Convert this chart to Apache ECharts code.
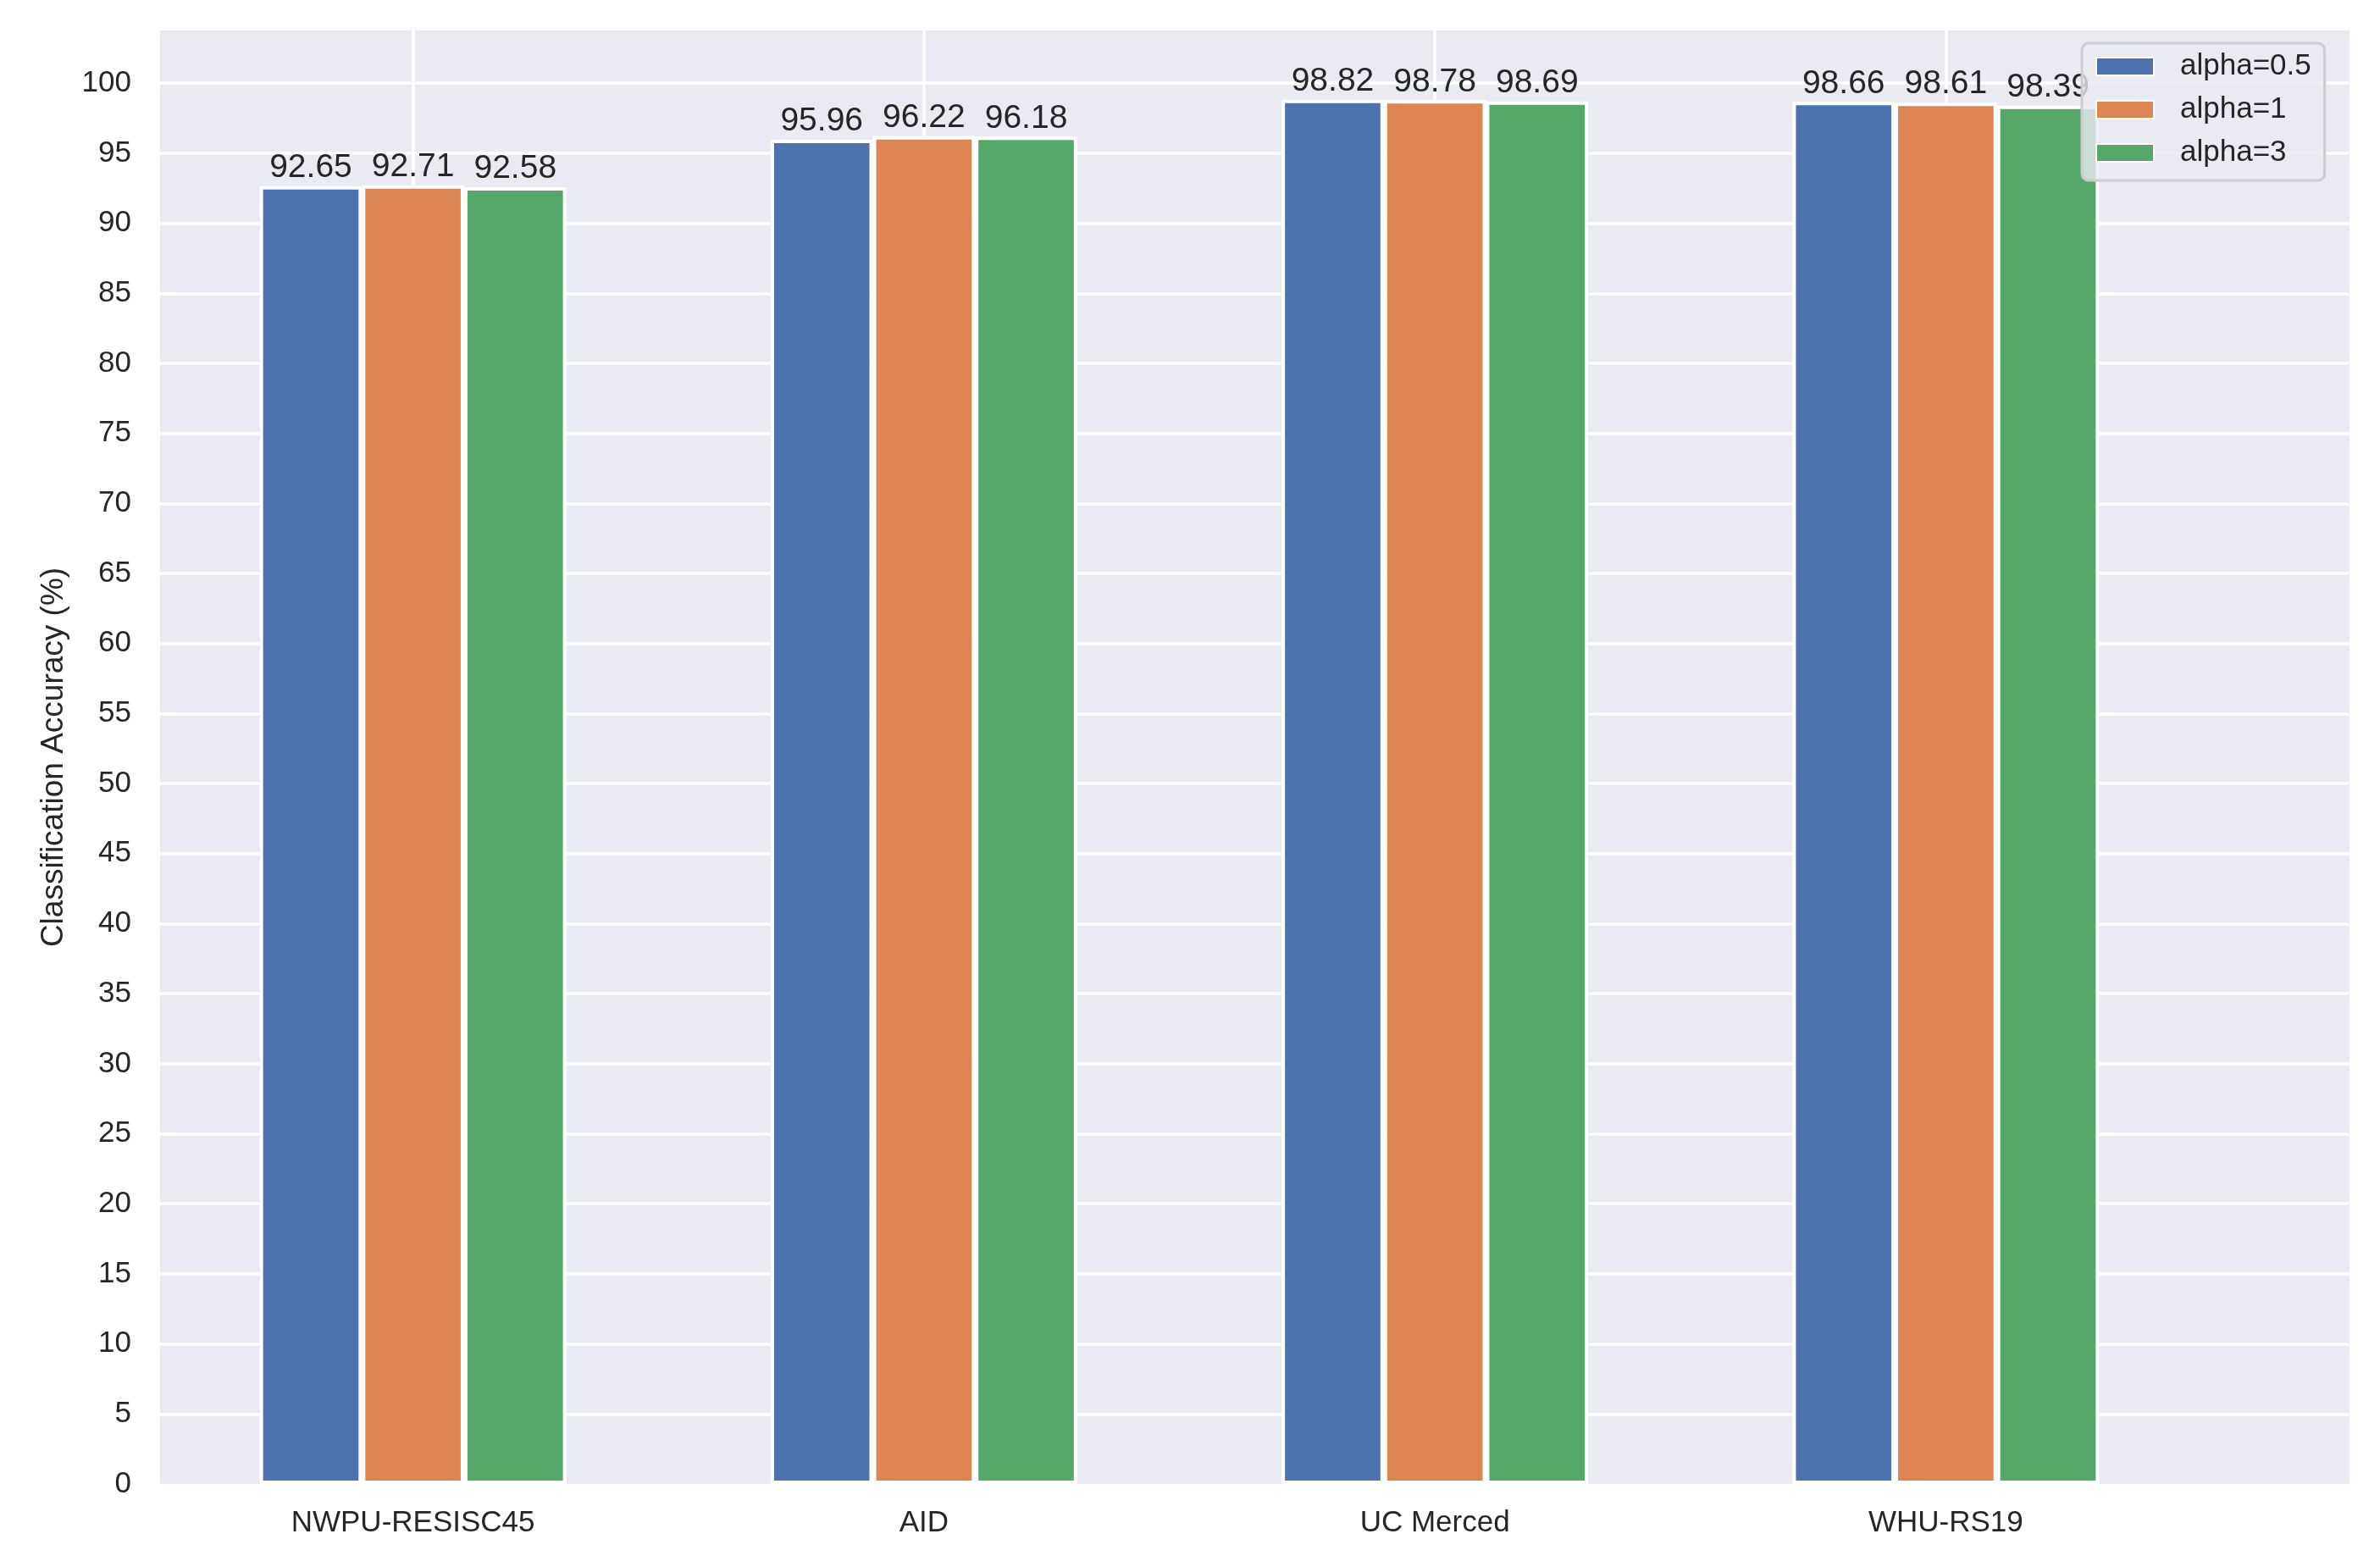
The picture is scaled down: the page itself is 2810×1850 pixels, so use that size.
<!DOCTYPE html>
<html>
<head>
<meta charset="utf-8">
<script src="https://cdn.jsdelivr.net/npm/echarts@6/dist/echarts.min.js"></script>
<style>
  html, body { margin: 0; padding: 0; background: #ffffff; }
  #chart { width: 2810px; height: 1850px; }
</style>
</head>
<body>
<div id="chart"></div>
<script>
const categories = ['NWPU-RESISC45', 'AID', 'UC Merced', 'WHU-RS19'];
const seriesNames = ['alpha=0.5', 'alpha=1', 'alpha=3'];
const alpha05 = [92.65, 95.96, 98.82, 98.66];
const alpha1 = [92.71, 96.22, 98.78, 98.61];
const alpha3 = [92.58, 96.18, 98.69, 98.39];
const yMin = 0;
const yMax = 103.76;
const yStep = 5;

const colors = ['#4C72B0', '#DD8452', '#55A868'];
const FONT = 'Liberation Sans, Arial, Helvetica, sans-serif';
const TXT = '#262626';

const chart = echarts.init(document.getElementById('chart'), null, { renderer: 'canvas' });

function barSeries(name, data, color) {
  return {
    name: name,
    type: 'bar',
    xAxisIndex: 1,
    yAxisIndex: 1,
    data: data,
    barWidth: '20%',
    barGap: '0%',
    itemStyle: { color: color, borderColor: '#ffffff', borderWidth: 4 },
    label: {
      show: true,
      position: 'top',
      distance: 2,
      color: TXT,
      fontFamily: FONT,
      fontSize: 39,
      formatter: p => Number(p.value).toFixed(2)
    }
  };
}

const option = {
  backgroundColor: '#ffffff',
  animation: false,
  textStyle: { fontFamily: FONT },
  grid: [
    { left: 189, top: 36, right: 36, bottom: 98, show: true, backgroundColor: '#EAEAF2', borderWidth: 0, z: 0 },
    { left: 186, top: 36, width: 2413, bottom: 98, show: false }
  ],
  xAxis: [
    { gridIndex: 0, type: 'value', min: 0, max: 1, show: false, splitLine: { show: false } },
    {
      gridIndex: 1, type: 'category', data: categories, boundaryGap: true,
      axisLine: { show: false }, axisTick: { show: false },
      axisLabel: { color: TXT, fontFamily: FONT, fontSize: 35, margin: 29 },
      splitLine: { show: true, alignWithLabel: true, lineStyle: { color: '#ffffff', width: 3.5 } }
    }
  ],
  yAxis: [
    {
      gridIndex: 0, type: 'value', min: yMin, max: yMax, interval: yStep,
      name: 'Classification Accuracy (%)', nameLocation: 'middle', nameRotate: 90, nameGap: 107,
      nameTextStyle: { color: TXT, fontFamily: FONT, fontSize: 37 },
      axisLine: { show: false }, axisTick: { show: false },
      axisLabel: { color: TXT, fontFamily: FONT, fontSize: 35, margin: 34, showMaxLabel: false,
        formatter: v => (Math.abs(v % yStep) < 1e-6 ? String(v) : '') },
      splitLine: { show: true, showMinLine: false, showMaxLine: false, lineStyle: { color: '#ffffff', width: 3.5 } }
    },
    { gridIndex: 1, type: 'value', min: yMin, max: yMax, interval: yStep, show: false, splitLine: { show: false } }
  ],
  legend: {
    data: seriesNames,
    orient: 'vertical',
    left: 2458,
    top: 51,
    padding: [10, 16, 15, 16],
    itemWidth: 68,
    itemHeight: 21,
    itemGap: 16,
    icon: 'rect',
    backgroundColor: 'rgba(234,234,242,0.8)',
    borderColor: '#cccccc',
    borderWidth: 3,
    borderRadius: 8,
    textStyle: { color: TXT, fontFamily: FONT, fontSize: 35, padding: [0, 0, 0, 26] },
    z: 10
  },
  series: [
    barSeries(seriesNames[0], alpha05, colors[0]),
    barSeries(seriesNames[1], alpha1, colors[1]),
    barSeries(seriesNames[2], alpha3, colors[2])
  ]
};

chart.setOption(option);
</script>
</body>
</html>
